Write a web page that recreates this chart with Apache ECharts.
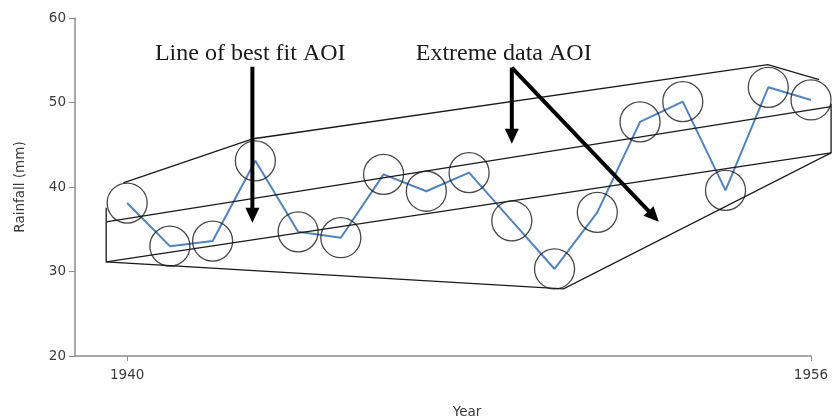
<!DOCTYPE html>
<html>
<head>
<meta charset="utf-8">
<script src="https://cdn.jsdelivr.net/npm/echarts@6/dist/echarts.min.js"></script>
<style>
  html, body { margin: 0; padding: 0; background: #ffffff; }
  #chart { width: 832px; height: 420px; }
</style>
</head>
<body>
<div id="chart"></div>
<script>
// Annual rainfall series
const years = [1940, 1941, 1942, 1943, 1944, 1945, 1946, 1947, 1948,
               1949, 1950, 1951, 1952, 1953, 1954, 1955, 1956];
const rainfall = [38.1, 33.0, 33.6, 43.1, 34.7, 34.0, 41.5, 39.5, 41.7,
                  36.0, 30.3, 37.0, 47.7, 50.1, 39.6, 51.8, 50.3];

// Axis ticks
const yearTicks = [1940, 1956];
const rainfallTicks = [20, 30, 40, 50, 60];

// Areas of interest, as [year, mm] vertices
const extremeOutlineTop = [[1939.91, 40.5], [1942.95, 45.71], [1954.99, 54.48], [1956.19, 52.7]];
const extremeOutlineRest = [[1956.47, 49.86], [1956.47, 44.05], [1950.21, 27.94],
                            [1939.51, 31.14], [1939.51, 37.54]];
const fitBandUpper = [[1939.51, 35.88], [1956.47, 49.5]];
const fitBandLower = [[1939.51, 31.14], [1956.47, 44.05]];

// Pointer arrows: [fromYear, fromMm, toYear, toMm]
const pointerArrows = [
  [1942.93, 54.24, 1942.93, 35.76],
  [1949.0, 54.12, 1949.0, 45.12],
  [1949.0, 54.12, 1952.44, 35.88]
];

// Area captions and where they sit
const captionTexts = ['Line of best fit AOI', 'Extreme data AOI'];
const captionAnchors = [[1942.88, 55.8], [1948.81, 55.8]];

const outlines = [extremeOutlineTop, extremeOutlineRest, fitBandUpper, fitBandLower];

const labelFont = { fontFamily: 'DejaVu Sans', fontSize: 13.5, color: '#3a3a3a' };

const chart = echarts.init(document.getElementById('chart'), null, { renderer: 'canvas' });

chart.setOption({
  animation: false,
  backgroundColor: '#ffffff',
  grid: { left: 75, right: 21, top: 18, bottom: 64, containLabel: false, outerBoundsMode: 'none' },
  xAxis: {
    type: 'value',
    min: 1938.78,
    max: 1956,
    name: 'Year',
    nameLocation: 'middle',
    nameGap: 49,
    nameTextStyle: Object.assign({ padding: [0, 0, 0, 48] }, labelFont),
    axisLine: { show: true, lineStyle: { color: '#8c8c8c', width: 1.5 } },
    axisTick: { show: true, customValues: yearTicks, length: 5, lineStyle: { color: '#8c8c8c', width: 1 } },
    axisLabel: Object.assign({
      customValues: yearTicks,
      formatter: v => String(v),
      margin: 12
    }, labelFont),
    splitLine: { show: false }
  },
  yAxis: {
    type: 'value',
    min: 20,
    max: 60,
    interval: 10,
    name: 'Rainfall (mm)',
    nameLocation: 'middle',
    nameGap: 48,
    nameTextStyle: labelFont,
    axisLine: { show: true, lineStyle: { color: '#8c8c8c', width: 1.5 } },
    axisTick: { show: true, length: 6, lineStyle: { color: '#8c8c8c', width: 1 } },
    axisLabel: Object.assign({ customValues: rainfallTicks, margin: 9 }, labelFont),
    splitLine: { show: false }
  },
  series: [
    {
      type: 'line',
      data: years.map((y, i) => [y, rainfall[i]]),
      symbol: 'none',
      z: 2,
      lineStyle: { color: '#5283ba', width: 2 }
    },
    {
      type: 'scatter',
      data: years.map((y, i) => [y, rainfall[i]]),
      symbol: 'circle',
      symbolSize: 40,
      z: 4,
      itemStyle: { color: 'rgba(0,0,0,0)', borderColor: '#1a1a1a', borderWidth: 1.3 }
    },
    {
      // Area-of-interest outlines
      type: 'custom',
      data: outlines.map((pts, i) => [i]),
      silent: true,
      clip: false,
      z: 3,
      renderItem: function (params, api) {
        const pts = outlines[params.dataIndex].map(p => api.coord(p));
        return {
          type: 'polyline',
          shape: { points: pts },
          style: { stroke: '#1a1a1a', lineWidth: 1.3, fill: null }
        };
      }
    },
    {
      type: 'custom',
      data: pointerArrows,
      silent: true,
      clip: false,
      z: 6,
      renderItem: function (params, api) {
        const p0 = api.coord([api.value(0), api.value(1)]);
        const p1 = api.coord([api.value(2), api.value(3)]);
        const dx = p1[0] - p0[0], dy = p1[1] - p0[1];
        const len = Math.sqrt(dx * dx + dy * dy);
        const ux = dx / len, uy = dy / len;
        const headLen = 15, headHalf = 7;
        const bx = p1[0] - ux * headLen, by = p1[1] - uy * headLen;
        return {
          type: 'group',
          children: [
            {
              type: 'line',
              shape: { x1: p0[0], y1: p0[1], x2: bx + ux, y2: by + uy },
              style: { stroke: '#000', lineWidth: 4, lineCap: 'butt' }
            },
            {
              type: 'polygon',
              shape: {
                points: [
                  [p1[0], p1[1]],
                  [bx - uy * headHalf, by + ux * headHalf],
                  [bx + uy * headHalf, by - ux * headHalf]
                ]
              },
              style: { fill: '#000' }
            }
          ]
        };
      }
    },
    {
      type: 'custom',
      data: captionAnchors,
      silent: true,
      clip: false,
      z: 6,
      renderItem: function (params, api) {
        const p = api.coord([api.value(0), api.value(1)]);
        return {
          type: 'text',
          x: p[0],
          y: p[1],
          style: {
            text: captionTexts[params.dataIndex],
            fontFamily: 'Liberation Serif',
            fontSize: 24,
            fill: '#1a1a1a',
            align: 'center',
            verticalAlign: 'middle'
          }
        };
      }
    }
  ]
});
</script>
</body>
</html>
